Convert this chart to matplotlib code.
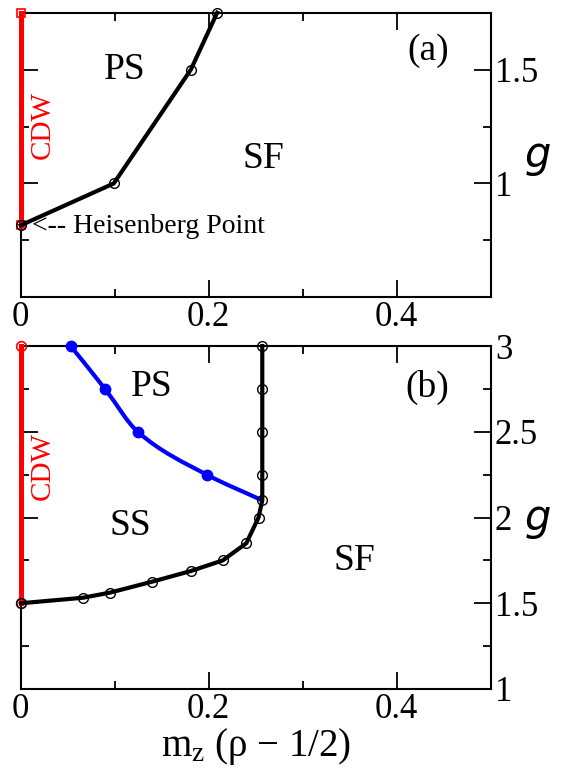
import matplotlib
matplotlib.use("Agg")
import matplotlib.pyplot as plt
from matplotlib.ticker import FixedLocator, NullFormatter
from matplotlib.path import Path
from matplotlib.patches import PathPatch

plt.rcParams['font.family'] = ['Liberation Serif', 'DejaVu Serif']
plt.rcParams['mathtext.fontset'] = 'custom'
plt.rcParams['mathtext.rm'] = 'Liberation Serif'
plt.rcParams['mathtext.it'] = 'Liberation Serif:italic'

# Panel (a) data
a_mz = [0.0, 0.099, 0.181, 0.209]
a_g = [0.816, 1.0, 1.5, 1.75]
a_cdw_mz = [0.0, 0.0]
a_cdw_g = [0.816, 1.75]

# Panel (b) data
b_black_mz = [0.0, 0.066, 0.095, 0.140, 0.181, 0.215, 0.240, 0.253, 0.257,
              0.257, 0.257, 0.257, 0.257]
b_black_g = [1.5, 1.532, 1.562, 1.626, 1.688, 1.75, 1.85, 2.0, 2.1,
             2.25, 2.5, 2.75, 3.0]
b_blue_mz = [0.0532, 0.0897, 0.1245, 0.1979, 0.257]
b_blue_g = [3.0, 2.75, 2.5, 2.25, 2.1]
b_blue_marked = [0, 1, 2, 3]
b_cdw_mz = [0.0, 0.0]
b_cdw_g = [1.5, 3.0]

x_major = [0, 0.2, 0.4]
x_minor = [0.1, 0.3]
x_labels = ['0', '0.2', '0.4']
a_y_major = [1.0, 1.5]
a_y_labels = ['1', '1.5']
a_y_minor = [0.75, 1.25]
b_y_major = [1.0, 1.5, 2.0, 2.5, 3.0]
b_y_labels = ['1', '1.5', '2', '2.5', '3']
b_y_minor = [1.25, 1.75, 2.25, 2.75]

fig = plt.figure(figsize=(5.86, 7.70), dpi=100)
ax1 = fig.add_axes([0.0353, 0.6139, 0.8021, 0.3696])
ax2 = fig.add_axes([0.0353, 0.1052, 0.8021, 0.4454])

TICK_FS = 25
LABEL_FS = 27

def style(ax, ymaj, ylab, ymin):
    ax.set_xlim(0, 0.5)
    ax.set_xticks(x_major)
    ax.set_xticklabels(x_labels)
    ax.xaxis.set_minor_locator(FixedLocator(x_minor))
    ax.set_yticks(ymaj)
    ax.set_yticklabels(ylab)
    ax.yaxis.set_minor_locator(FixedLocator(ymin))
    ax.yaxis.set_minor_formatter(NullFormatter())
    ax.tick_params(which='both', direction='in', top=True, bottom=True,
                   left=True, right=True, labelleft=False, labelright=True,
                   width=1.3, labelsize=TICK_FS, pad=3)
    ax.tick_params(which='major', length=12)
    ax.tick_params(which='minor', length=6)
    for s in ax.spines.values():
        s.set_linewidth(1.5)

def smooth_path(ax, xs, ys, **kw):
    # monotone cubic (Fritsch-Carlson) curve through the points, as Bezier path
    n = len(xs)
    h = [xs[i + 1] - xs[i] for i in range(n - 1)]
    dl = [(ys[i + 1] - ys[i]) / h[i] for i in range(n - 1)]
    d = [0.0] * n
    d[0] = dl[0]
    d[-1] = dl[-1]
    for k in range(1, n - 1):
        if dl[k - 1] * dl[k] <= 0:
            d[k] = 0.0
        else:
            w1 = 2 * h[k] + h[k - 1]
            w2 = h[k] + 2 * h[k - 1]
            d[k] = (w1 + w2) / (w1 / dl[k - 1] + w2 / dl[k])
    verts = [(xs[0], ys[0])]
    codes = [Path.MOVETO]
    for i in range(n - 1):
        verts += [(xs[i] + h[i] / 3, ys[i] + d[i] * h[i] / 3),
                  (xs[i + 1] - h[i] / 3, ys[i + 1] - d[i + 1] * h[i] / 3),
                  (xs[i + 1], ys[i + 1])]
        codes += [Path.CURVE4] * 3
    patch = PathPatch(Path(verts, codes), facecolor='none',
                      transform=ax.transData, clip_on=False, **kw)
    ax.add_patch(patch)

# Panel (a)
ax1.set_ylim(0.5, 1.75)
style(ax1, a_y_major, a_y_labels, a_y_minor)
ax1.plot(a_cdw_mz, a_cdw_g, color='red', lw=3.6, marker='s', ms=6,
         mfc='none', mec='red', mew=1.2, clip_on=False, zorder=5)
ax1.plot(a_mz, a_g, color='black', lw=3, marker='o', ms=7,
         mfc='none', mec='black', mew=1.0, clip_on=False, zorder=6)
ax1.text(0.111, 1.5, 'PS', fontsize=LABEL_FS, ha='center', va='center')
ax1.text(0.258, 1.11, 'SF', fontsize=LABEL_FS, ha='center', va='center')
ax1.text(0.024, 1.255, 'CDW', fontsize=21, color='red', rotation=90,
         ha='center', va='center')
ax1.text(0.433, 1.585, '(a)', fontsize=27, ha='center', va='center')
ax1.text(0.012, 0.812, '<-- Heisenberg Point', fontsize=20, ha='left',
         va='center')
ax1.text(1.1, 0.5, 'g', transform=ax1.transAxes, fontsize=30,
         family='DejaVu Sans', style='italic', ha='center', va='center')

# Panel (b)
ax2.set_ylim(1.0, 3.0)
style(ax2, b_y_major, b_y_labels, b_y_minor)
ax2.plot(b_cdw_mz, b_cdw_g, color='red', lw=3.6, marker='o', ms=7,
         mfc='none', mec='red', mew=1.2, clip_on=False, zorder=5)
smooth_path(ax2, b_blue_mz, b_blue_g, edgecolor='blue', lw=3, zorder=6)
ax2.plot([b_blue_mz[i] for i in b_blue_marked],
         [b_blue_g[i] for i in b_blue_marked], ls='none', marker='o', ms=7.5,
         color='blue', clip_on=False, zorder=7)
ax2.plot(b_black_mz, b_black_g, color='black', lw=3, marker='o', ms=7,
         mfc='none', mec='black', mew=1.0, clip_on=False, zorder=6)
ax2.text(0.139, 2.76, 'PS', fontsize=LABEL_FS, ha='center', va='center')
ax2.text(0.117, 1.95, 'SS', fontsize=LABEL_FS, ha='center', va='center')
ax2.text(0.355, 1.75, 'SF', fontsize=LABEL_FS, ha='center', va='center')
ax2.text(0.024, 2.3, 'CDW', fontsize=21, color='red', rotation=90,
         ha='center', va='center')
ax2.text(0.433, 2.76, '(b)', fontsize=27, ha='center', va='center')
ax2.text(1.1, 0.5, 'g', transform=ax2.transAxes, fontsize=30,
         family='DejaVu Sans', style='italic', ha='center', va='center')
ax2.set_xlabel(r'm$_\mathrm{z}$ ($\mathrm{\rho}$ − 1/2)', fontsize=28,
               labelpad=0)

fig.savefig('out.png', dpi=100)
